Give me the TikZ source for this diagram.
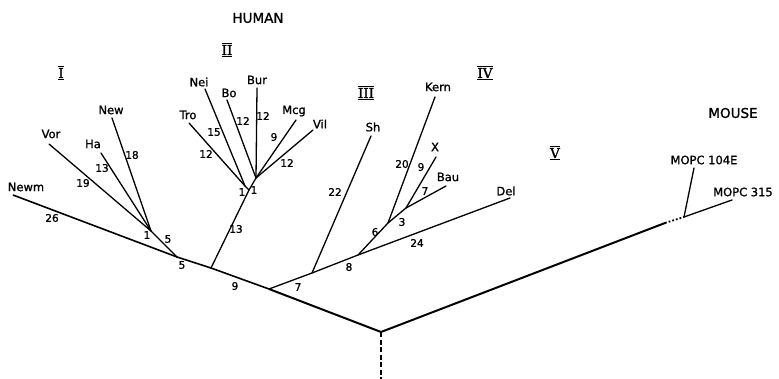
\documentclass[tikz,border=0pt]{standalone}
\usepackage{fontspec}
\setmainfont{DejaVu Sans}[FakeBold=1.2]
\newfontfamily\romfont{DejaVu Serif}[FakeBold=1.5]
\newcommand{\romnum}[1]{$\overline{\underline{\hbox{\romfont #1}}}$}
\begin{document}
\begin{tikzpicture}[x=1pt,y=-1pt,
  br/.style={line width=1.3pt,line cap=round},
  trunk/.style={line width=2pt},
  lab/.style={font=\fontsize{11.5}{13}\selectfont,inner sep=0pt},
  elab/.style={font=\fontsize{10.5}{12}\selectfont,inner sep=0pt},
  grp/.style={font=\fontsize{13.5}{15}\selectfont,inner sep=0pt},
  big/.style={font=\fontsize{13.5}{15}\selectfont,inner sep=0pt}]
\useasboundingbox (0,0) rectangle (779,379);
% coordinates
\coordinate (R) at (381,332);
\coordinate (Bot) at (381,379);
\coordinate (n3) at (269,289);
\coordinate (n2) at (211,268);
\coordinate (n1) at (177,257);
\coordinate (tNewm) at (13,195);
\coordinate (nI) at (151,231);
\coordinate (tVor) at (49,144);
\coordinate (tHa) at (101,153);
\coordinate (tNew) at (112,118);
\coordinate (B2) at (249,190);
\coordinate (L2) at (245,186);
\coordinate (R2) at (256,178);
\coordinate (tTro) at (189,123);
\coordinate (tNei) at (205,89);
\coordinate (tBo) at (227,100);
\coordinate (tBur) at (257,88);
\coordinate (tMcg) at (296,120);
\coordinate (tVil) at (313,130);
\coordinate (nSh) at (312,273);
\coordinate (tSh) at (371,136);
\coordinate (nIV) at (358,255);
\coordinate (n6) at (388,223);
\coordinate (tKern) at (435,97);
\coordinate (nXB) at (406,208);
\coordinate (tX) at (436,157);
\coordinate (tBau) at (446,186);
\coordinate (tDel) at (510,198);
\coordinate (Md) at (665,223);
\coordinate (M) at (684,217);
\coordinate (tA) at (694,168);
\coordinate (tB) at (732,200);
% trunk
\draw[trunk] (n3) -- (R) -- (Md);
\draw[line width=1.8pt,dotted] (Md) -- (M);
\draw[br] (M) -- (tA);
\draw[br] (M) -- (tB);
\draw[line width=1.3pt,dash pattern=on 5pt off 2.5pt] (R) -- (Bot);
\draw[line width=1.6pt] (tNewm) -- (n1) -- (n2) -- (n3);
% group I
\draw[br] (n1) -- (nI);
\draw[br] (nI) -- (tVor);
\draw[br] (nI) -- (tHa);
\draw[br] (nI) -- (tNew);
% group II
\draw[br] (n2) -- (B2);
\draw[br] (B2) -- (L2);
\draw[br] (B2) -- (R2);
\draw[br] (L2) -- (tTro);
\draw[br] (L2) -- (tNei);
\draw[br] (R2) -- (tBo);
\draw[br] (R2) -- (tBur);
\draw[br] (R2) -- (tMcg);
\draw[br] (R2) -- (tVil);
% III, IV, V
\draw[br] (n3) -- (nSh) -- (nIV) -- (tDel);
\draw[br] (nSh) -- (tSh);
\draw[br] (nIV) -- (n6);
\draw[br] (n6) -- (tKern);
\draw[br] (n6) -- (nXB);
\draw[br] (nXB) -- (tX);
\draw[br] (nXB) -- (tBau);
% titles
\node[big] (human) at (258,18) {HUMAN};
\node[big] (mouse) at (733,113) {MOUSE};
\node[grp] (gI) at (61,73) {\romnum{I}};
\node[grp] (gII) at (227,50) {\romnum{II}};
\node[grp] (gIII) at (366,93) {\romnum{III}};
\node[grp] (gIV) at (485,73) {\romnum{IV}};
\node[grp] (gV) at (555,153) {\romnum{V}};
% leaf labels
\node[lab] (lNewm) at (26,187) {Newm};
\node[lab] (lVor) at (51,134) {Vor};
\node[lab] (lHa) at (93,144) {Ha};
\node[lab] (lNew) at (111,110) {New};
\node[lab] (lTro) at (188,115) {Tro};
\node[lab] (lNei) at (199,82) {Nei};
\node[lab] (lBo) at (229,93) {Bo};
\node[lab] (lBur) at (257,80) {Bur};
\node[lab] (lMcg) at (294,111) {Mcg};
\node[lab] (lVil) at (320,124) {Vil};
\node[lab] (lSh) at (373,127) {Sh};
\node[lab] (lKern) at (438,87) {Kern};
\node[lab] (lX) at (435,147) {X};
\node[lab] (lBau) at (448,177) {Bau};
\node[lab] (lDel) at (506,191) {Del};
\node[lab] (lA) at (704,160) {MOPC 104E};
\node[lab] (lB) at (743,192) {MOPC 315};
% edge labels
\node[elab] (e1) at (52,218) {26};
\node[elab] (e2) at (83,183) {19};
\node[elab] (e3) at (102,168) {13};
\node[elab] (e4) at (132,155) {18};
\node[elab] (e5) at (147,235) {1};
\node[elab] (e6) at (168,239) {5};
\node[elab] (e7) at (182,265) {5};
\node[elab] (e8) at (235,286) {9};
\node[elab] (e9) at (236,229) {13};
\node[elab] (e10) at (298,287) {7};
\node[elab] (e11) at (349,267) {8};
\node[elab] (e12) at (335,192) {22};
\node[elab] (e13) at (375,232) {6};
\node[elab] (e14) at (402,222) {3};
\node[elab] (e15) at (402,164) {20};
\node[elab] (e16) at (421,167) {9};
\node[elab] (e17) at (425,191) {7};
\node[elab] (e18) at (417,243) {24};
\node[elab] (e19) at (206,154) {12};
\node[elab] (e20) at (214,132) {15};
\node[elab] (e21) at (243,121) {12};
\node[elab] (e22) at (263,116) {12};
\node[elab] (e23) at (274,137) {9};
\node[elab] (e24) at (287,163) {12};
\node[elab] (e25) at (242,192) {1};
\node[elab] (e26) at (254,190) {1};
\end{tikzpicture}
\end{document}
